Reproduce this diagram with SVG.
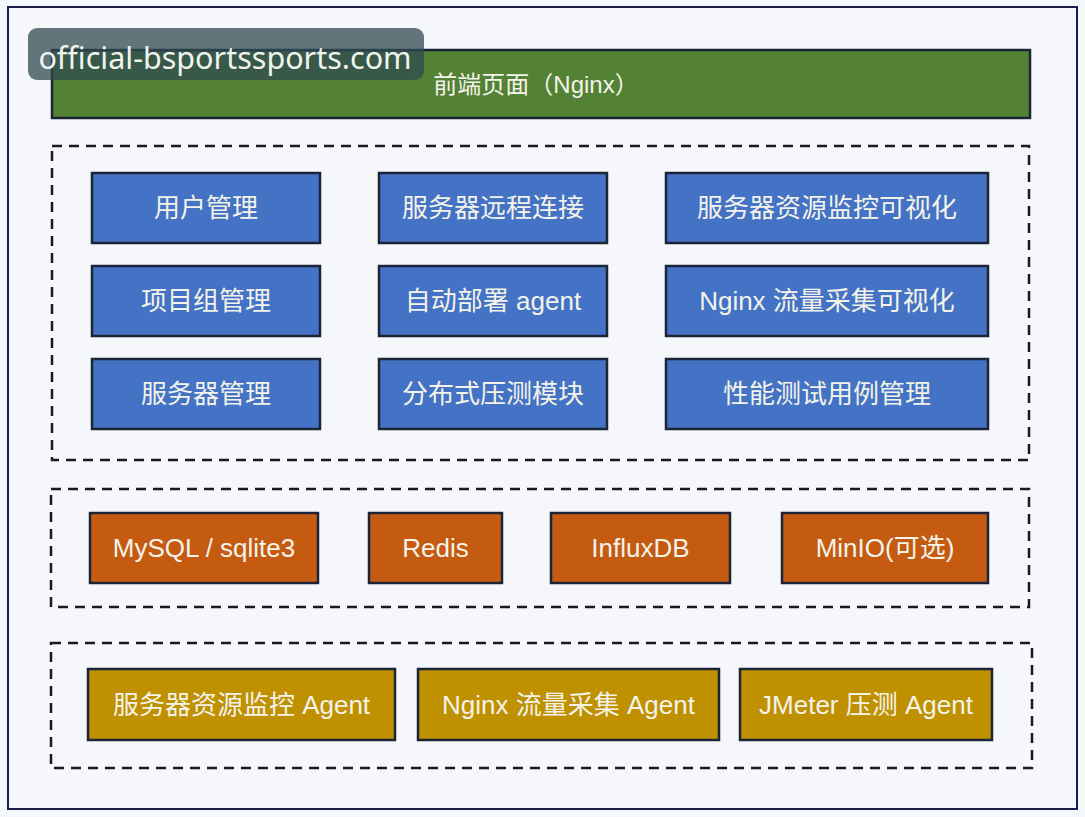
<svg xmlns="http://www.w3.org/2000/svg" width="1085" height="817" viewBox="0 0 1085 817">
<style>
.box{stroke:#1c2438;stroke-width:2.5}
.blue{fill:#4472c4}
.orange{fill:#c55a11}
.gold{fill:#bf9000}
.green{fill:#548235}
.dash{fill:none;stroke:#1a1a1a;stroke-width:2.5;stroke-dasharray:10 7}
.t{font-family:"Liberation Sans","Noto Sans CJK SC",sans-serif;font-size:26px;fill:#f3f3ea;text-anchor:middle;dominant-baseline:central}
</style>
<rect width="1085" height="817" fill="#f6f7fb"/>
<rect x="8" y="7" width="1069" height="802" fill="#f6f7fb" stroke="#1a1d4a" stroke-width="2"/>
<g id="frontend">
<rect class="box green" x="52" y="50" width="978" height="68"/>
<text class="t" x="536" y="84" style="font-size:24px">前端页面（Nginx）</text>
</g>
<g id="groups">
<rect class="dash" x="52" y="146" width="977" height="314"/>
<rect class="dash" x="51" y="489" width="978" height="118"/>
<rect class="dash" x="51" y="643" width="981" height="125"/>
</g>
<g id="user-mgmt"><rect class="box blue" x="92" y="173" width="228" height="70"/><text class="t" x="206" y="208">用户管理</text></g>
<g id="remote-conn"><rect class="box blue" x="379" y="173" width="228" height="70"/><text class="t" x="493" y="208">服务器远程连接</text></g>
<g id="res-vis"><rect class="box blue" x="666" y="173" width="322" height="70"/><text class="t" x="827" y="208">服务器资源监控可视化</text></g>
<g id="project-mgmt"><rect class="box blue" x="92" y="266" width="228" height="70"/><text class="t" x="206" y="301">项目组管理</text></g>
<g id="auto-deploy"><rect class="box blue" x="379" y="266" width="228" height="70"/><text class="t" x="493" y="301">自动部署 agent</text></g>
<g id="nginx-vis"><rect class="box blue" x="666" y="266" width="322" height="70"/><text class="t" x="827" y="301">Nginx 流量采集可视化</text></g>
<g id="server-mgmt"><rect class="box blue" x="92" y="359" width="228" height="70"/><text class="t" x="206" y="394">服务器管理</text></g>
<g id="dist-test"><rect class="box blue" x="379" y="359" width="228" height="70"/><text class="t" x="493" y="394">分布式压测模块</text></g>
<g id="perf-case"><rect class="box blue" x="666" y="359" width="322" height="70"/><text class="t" x="827" y="394">性能测试用例管理</text></g>
<g id="mysql"><rect class="box orange" x="90" y="513" width="228" height="70"/><text class="t" x="204" y="548">MySQL / sqlite3</text></g>
<g id="redis"><rect class="box orange" x="369" y="513" width="133" height="70"/><text class="t" x="435.5" y="548">Redis</text></g>
<g id="influxdb"><rect class="box orange" x="551" y="513" width="179" height="70"/><text class="t" x="640.5" y="548">InfluxDB</text></g>
<g id="minio"><rect class="box orange" x="782" y="513" width="206" height="70"/><text class="t" x="885" y="548">MinIO(可选)</text></g>
<g id="res-agent"><rect class="box gold" x="88" y="669" width="307" height="71"/><text class="t" x="241.5" y="705">服务器资源监控 Agent</text></g>
<g id="nginx-agent"><rect class="box gold" x="418" y="669" width="301" height="71"/><text class="t" x="568.5" y="705">Nginx 流量采集 Agent</text></g>
<g id="jmeter-agent"><rect class="box gold" x="740" y="669" width="252" height="71"/><text class="t" x="866" y="705">JMeter 压测 Agent</text></g>
<g id="watermark">
<rect x="28" y="28" width="396" height="52" rx="9" fill="#2f4a50" fill-opacity="0.75"/>
<text x="225" y="57" font-family="'Noto Sans',sans-serif" font-size="30.5" fill="#f0f4ee" text-anchor="middle" dominant-baseline="central">official-bsportssports.com</text>
</g>
<g id="connectors"/>
</svg>
